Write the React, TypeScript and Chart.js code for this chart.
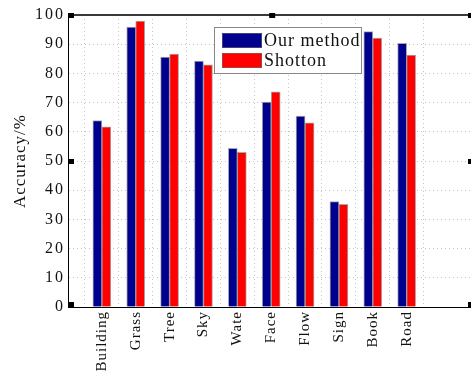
import React, { useEffect, useRef } from "react";
import { Chart, registerables } from "chart.js";

Chart.register(...registerables);

const categories = ["Building", "Grass", "Tree", "Sky", "Wate", "Face", "Flow", "Sign", "Book", "Road"];
const ourMethod = [63.8, 95.9, 85.6, 84.2, 54.3, 70.2, 65.4, 36.1, 94.3, 90.3];
const shotton = [61.7, 97.9, 86.6, 82.9, 53.0, 73.7, 63.1, 35.2, 92.1, 86.3];
const seriesNames = ["Our method", "Shotton"];
const yTicks = [0, 10, 20, 30, 40, 50, 60, 70, 80, 90, 100];

const SERIF = "'Liberation Serif', 'DejaVu Serif', serif";

const spacingPlugin = {
  id: "spacing",
  beforeLayout(chart: any) {
    chart.ctx.letterSpacing = "1px";
  },
  afterLayout(chart: any) {
    const ys = chart.scales.y;
    if (ys && !ys.__patched) {
      const orig = ys.drawLabels.bind(ys);
      ys.drawLabels = (ca: any) => {
        const prev = chart.ctx.letterSpacing;
        chart.ctx.letterSpacing = "2px";
        orig(ca);
        chart.ctx.letterSpacing = prev;
      };
      ys.__patched = true;
    }
  },
  beforeDraw(chart: any) {
    chart.ctx.letterSpacing = "1px";
  },
};

const framePlugin = {
  id: "frame",
  afterDatasetsDraw(chart: any) {
    const { ctx, chartArea } = chart;
    const { left, right, top } = chartArea;
    const xs = chart.scales.x;
    const ys = chart.scales.y;
    ctx.save();
    ctx.strokeStyle = "#3a3a3a";
    ctx.lineWidth = 2;
    ctx.beginPath();
    ctx.moveTo(left, top);
    ctx.lineTo(right, top);
    ctx.stroke();
    ctx.fillStyle = "#000";
    const marks: [number, number][] = [
      [left, ys.getPixelForValue(100)],
      [left, ys.getPixelForValue(50)],
      [left, ys.getPixelForValue(0) - 3],
      [right - 3, ys.getPixelForValue(50)],
      [right - 3, ys.getPixelForValue(0) - 3],
      [right - 3, ys.getPixelForValue(100)],
      [xs.getPixelForValue(6) - 2, ys.getPixelForValue(100)],
    ];
    for (const [mx, my] of marks) {
      ctx.fillRect(mx, my - 2, 6, 5);
    }
    ctx.restore();
  },
};

const legendPlugin = {
  id: "innerLegend",
  afterDraw(chart: any) {
    const { ctx, chartArea } = chart;
    const x = chartArea.left + 146;
    const y = chartArea.top + 12;
    const w = 147;
    const h = 46;
    ctx.save();
    ctx.fillStyle = "#fff";
    ctx.fillRect(x, y, w, h);
    ctx.strokeStyle = "#888";
    ctx.lineWidth = 1;
    ctx.strokeRect(x + 0.5, y + 0.5, w, h);
    chart.data.datasets.forEach((ds: any, i: number) => {
      const sy = y + 6 + i * 20;
      ctx.fillStyle = ds.backgroundColor;
      ctx.fillRect(x + 8, sy, 40, 15);
      ctx.strokeStyle = "rgba(110,110,110,0.6)";
      ctx.strokeRect(x + 8.5, sy + 0.5, 39, 14);
      ctx.fillStyle = "#111";
      ctx.font = `18px ${SERIF}`;
      ctx.letterSpacing = "1px";
      ctx.textBaseline = "middle";
      ctx.textAlign = "left";
      ctx.fillText(ds.label, x + 50, sy + 8);
    });
    ctx.restore();
  },
};

export default function App() {
  const ref = useRef<HTMLCanvasElement>(null);

  useEffect(() => {
    document.body.style.margin = "0";
    const toPoints = (arr: number[]) => arr.map((v, i) => ({ x: i + 1, y: v }));
    const chart = new Chart(ref.current as HTMLCanvasElement, {
      type: "bar",
      data: {
        datasets: [
          {
            label: seriesNames[0],
            data: toPoints(ourMethod) as any,
            backgroundColor: "#00008f",
            borderColor: "rgba(110,110,110,0.6)",
            borderWidth: 1,
            barThickness: 9,
          },
          {
            label: seriesNames[1],
            data: toPoints(shotton) as any,
            backgroundColor: "#ff0000",
            borderColor: "rgba(110,110,110,0.6)",
            borderWidth: 1,
            barThickness: 9,
          },
        ],
      },
      options: {
        animation: false,
        responsive: false,
        layout: { padding: { top: 15, right: 0, left: 0, bottom: 0 } },
        plugins: {
          legend: { display: false },
          tooltip: { enabled: false },
        },
        scales: {
          x: {
            type: "linear",
            min: 0,
            max: 11.9,
            offset: false,
            afterBuildTicks: (s: any) => {
              s.ticks = categories.map((_, i) => ({ value: i + 1 }));
            },
            grid: {
              drawTicks: false,
              color: "#c4c4c4",
            },
            border: { color: "#000", width: 1, dash: [1, 3] },
            ticks: {
              autoSkip: false,
              minRotation: 90,
              maxRotation: 90,
              padding: 4,
              color: "#111",
              font: { family: SERIF, size: 15 },
              callback: (v: any) => categories[Math.round(v) - 1] ?? "",
            },
            afterFit: (s: any) => {
              s.height = 67;
            },
          },
          y: {
            min: 0,
            max: 100,
            afterBuildTicks: (s: any) => {
              s.ticks = yTicks.map((v) => ({ value: v }));
            },
            grid: {
              drawTicks: false,
              color: "#c4c4c4",
            },
            border: { color: "#000", width: 1, dash: [1, 3] },
            ticks: {
              padding: 3,
              color: "#111",
              font: { family: SERIF, size: 16 },
            },
            title: {
              display: true,
              text: "Accuracy/%",
              color: "#111",
              font: { family: SERIF, size: 17 },
              padding: { top: 10, bottom: 0 },
            },
            afterFit: (s: any) => {
              s.width = 68;
            },
          },
        },
      },
      plugins: [spacingPlugin, framePlugin, legendPlugin],
    });
    chart.draw();
    return () => chart.destroy();
  }, []);

  return (
    <div style={{ width: 471, height: 374 }}>
      <canvas ref={ref} width={471} height={374} />
    </div>
  );
}
